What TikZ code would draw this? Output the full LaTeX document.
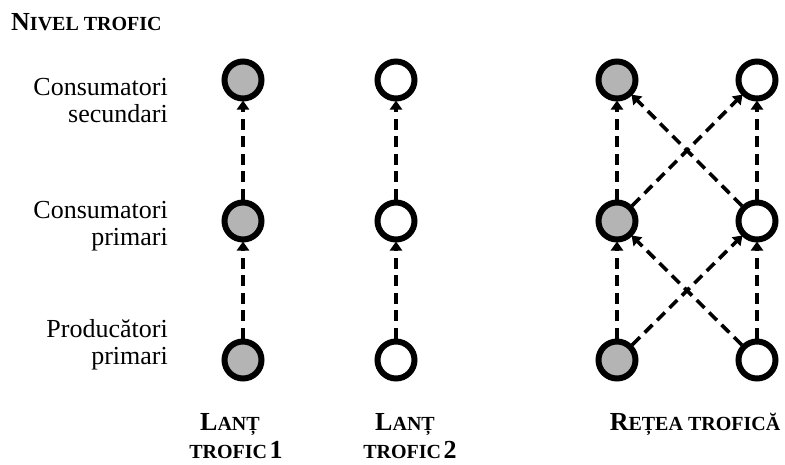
\documentclass[tikz,border=0pt]{standalone}
\usepackage{fontspec}
\setmainfont{Liberation Serif}
\usetikzlibrary{arrows.meta}
\definecolor{fillgray}{RGB}{180,180,180}
% fake small caps: first letter large, rest smaller capitals
\newcommand{\bigc}[1]{{\fontsize{26}{30}\selectfont #1}}
\newcommand{\smc}[1]{{\fontsize{20}{24}\selectfont #1}}
\tikzset{
  organism/.style={circle, draw=black, line width=6pt, minimum size=37pt, inner sep=0pt, fill=white},
  producer/.style={organism, fill=fillgray},
  flow/.style={line width=3.6pt, dash pattern=on 11pt off 6.5pt, -{Triangle[length=9pt,width=12pt]}, shorten >=-1pt},
  levellabel/.style={anchor=base east, inner sep=0pt, font=\fontsize{26}{30}\selectfont},
  headlabel/.style={inner sep=0pt, font=\bfseries}
}
\begin{document}
\begin{tikzpicture}[x=1pt, y=-1pt]
\useasboundingbox (0,0) rectangle (785,464);

% heading
\node[headlabel, anchor=base west] (head) at (11,30) {\bigc{N}\smc{IVEL TROFIC}};

% trophic level names
\node[levellabel] (l1a) at (168,95) {Consumatori};
\node[levellabel] (l1b) at (168,122) {secundari};
\node[levellabel] (l2a) at (168,218) {Consumatori};
\node[levellabel] (l2b) at (168,245) {primari};
\node[levellabel] (l3a) at (168,337) {Producători};
\node[levellabel] (l3b) at (168,364) {primari};

% food chain 1
\node[producer] (a3) at (243,360) {};
\node[producer] (a2) at (243,221) {};
\node[producer] (a1) at (243,80) {};
\draw[flow] (a3) -- (a2);
\draw[flow] (a2) -- (a1);

% food chain 2
\node[organism] (b3) at (396,360) {};
\node[organism] (b2) at (396,221) {};
\node[organism] (b1) at (396,80) {};
\draw[flow] (b3) -- (b2);
\draw[flow] (b2) -- (b1);

% food web
\node[producer] (p3) at (617,360) {};
\node[producer] (p2) at (617,221) {};
\node[producer] (p1) at (617,80) {};
\node[organism] (q3) at (757,360) {};
\node[organism] (q2) at (757,221) {};
\node[organism] (q1) at (757,80) {};
\draw[flow] (p3) -- (p2);
\draw[flow] (p2) -- (p1);
\draw[flow] (q3) -- (q2);
\draw[flow] (q2) -- (q1);
\draw[flow] (p3) -- (q2);
\draw[flow] (q3) -- (p2);
\draw[flow] (p2) -- (q1);
\draw[flow] (q2) -- (p1);

% captions
\node[headlabel, anchor=base] (cap1a) at (230,430) {\bigc{L}\smc{ANȚ}};
\node[headlabel, anchor=base] (cap1b) at (236,458) {\smc{TROFIC} \bigc{1}};
\node[headlabel, anchor=base] (cap2a) at (405,430) {\bigc{L}\smc{ANȚ}};
\node[headlabel, anchor=base] (cap2b) at (410,458) {\smc{TROFIC} \bigc{2}};
\node[headlabel, anchor=base] (cap3) at (695,430) {\bigc{R}\smc{EȚEA TROFICĂ}};
\end{tikzpicture}
\end{document}
